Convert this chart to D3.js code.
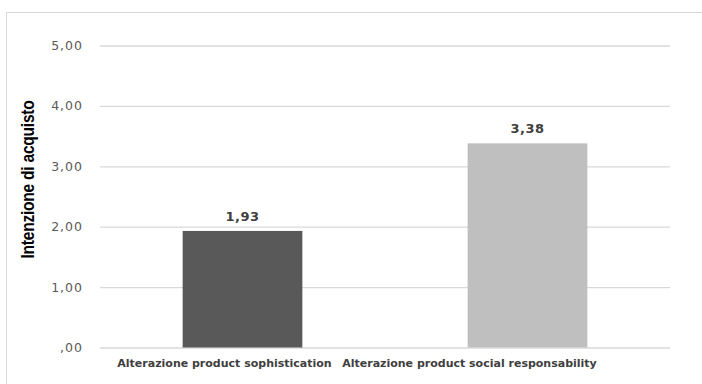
<!DOCTYPE html>
<html>
<head>
<meta charset="utf-8">
<script src="https://cdn.jsdelivr.net/npm/d3@7"></script>
<style>
  html, body { margin: 0; padding: 0; background: #ffffff; }
  svg { display: block; }
</style>
</head>
<body>
<script>
// Purchase-intention means per manipulated product attribute
const categories = ["Alterazione product sophistication", "Alterazione product social responsability"];
const values = [1.93, 3.38];
const barColors = ["#595959", "#bfbfbf"];
const yTicks = [0, 1, 2, 3, 4, 5];
const yTitle = "Intenzione di acquisto";

const W = 702, H = 384;
const margin = { left: 100, right: 32, top: 45.5, bottom: 36.5 };

const svg = d3.select("body").append("svg")
  .attr("width", W).attr("height", H);

// outer chart frame
svg.append("rect")
  .attr("x", 6.5).attr("y", 12.5)
  .attr("width", W + 10).attr("height", H + 10)
  .attr("fill", "none").attr("stroke", "#d9d9d9").attr("stroke-width", 1);

const x = d3.scaleBand()
  .domain(categories)
  .range([margin.left, W - margin.right])
  .paddingInner(0.58).paddingOuter(0.29);

const y = d3.scaleLinear()
  .domain([0, 5])
  .range([H - margin.bottom, margin.top]);

const fmt = v => d3.format(".2f")(v).replace(".", ",").replace(/^0,/, ",");

// gridlines
const yAxis = d3.axisLeft(y).tickValues(yTicks).tickFormat(fmt)
  .tickSize(-(W - margin.right - margin.left)).tickPadding(17);
const gy = svg.append("g")
  .attr("transform", `translate(${margin.left},0)`)
  .call(yAxis);
gy.select(".domain").remove();
gy.selectAll(".tick line").attr("stroke", "#d9d9d9").attr("stroke-width", 1.3);
gy.selectAll(".tick text")
  .attr("fill", "#595959")
  .style("font-family", "'DejaVu Sans', Verdana, sans-serif")
  .style("font-size", "12.5px")
  .style("letter-spacing", "1px");

// bars
svg.append("g").selectAll("rect")
  .data(categories)
  .join("rect")
  .attr("x", d => x(d))
  .attr("width", x.bandwidth())
  .attr("y", (d, i) => y(values[i]))
  .attr("height", (d, i) => y(0) - y(values[i]))
  .attr("fill", (d, i) => barColors[i]);

// value labels
svg.append("g").selectAll("text")
  .data(categories)
  .join("text")
  .attr("x", d => x(d) + x.bandwidth() / 2)
  .attr("y", (d, i) => y(values[i]) - 10)
  .attr("text-anchor", "middle")
  .attr("fill", "#404040")
  .style("font-family", "'DejaVu Sans', Verdana, sans-serif")
  .style("font-size", "13px")
  .style("font-weight", "bold")
  .style("letter-spacing", "0.5px")
  .text((d, i) => fmt(values[i]));

// category labels
const labelShift = [-18, -58];
svg.append("g").selectAll("text")
  .data(categories)
  .join("text")
  .attr("x", (d, i) => x(d) + x.bandwidth() / 2 + labelShift[i])
  .attr("y", H - 17)
  .attr("text-anchor", "middle")
  .attr("fill", "#404040")
  .style("font-family", "'DejaVu Sans', Verdana, sans-serif")
  .style("font-size", "11px")
  .style("font-weight", "bold")
  .text(d => d);

// y-axis title, condensed horizontally
svg.append("text")
  .attr("transform", `translate(34,${(y(0) + y(5)) / 2 - 17}) rotate(-90) scale(0.82,1)`)
  .attr("text-anchor", "middle")
  .attr("fill", "#000000")
  .style("font-family", "'Liberation Sans', Arial, sans-serif")
  .style("font-size", "19px")
  .style("font-weight", "bold")
  .style("letter-spacing", "-0.3px")
  .text(yTitle);
</script>
</body>
</html>
